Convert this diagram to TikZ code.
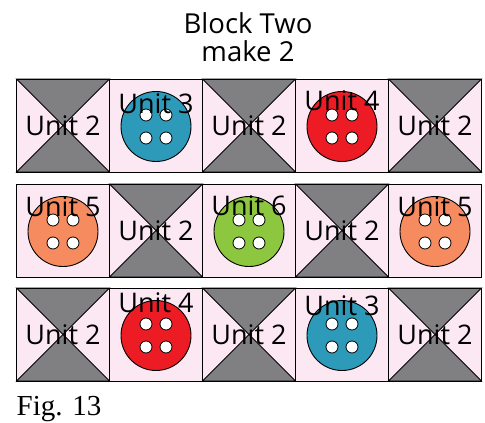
\documentclass[tikz,border=0pt]{standalone}
\usepackage{fontspec}
\setsansfont{Open Sans}
\newfontfamily\figfont{Liberation Serif}
\usepackage{tikz}

\definecolor{quiltgray}{RGB}{128,128,130}
\definecolor{quiltpink}{RGB}{252,232,242}
\definecolor{btnblue}{RGB}{46,154,186}
\definecolor{btnred}{RGB}{237,28,36}
\definecolor{btnorange}{RGB}{246,139,95}
\definecolor{btngreen}{RGB}{141,198,63}

\tikzset{
  patch/.style={fill=quiltpink,draw=black,line width=0.9pt},
  dark/.style={fill=quiltgray,draw=black,line width=0.9pt},
  button/.style={draw=black,line width=0.9pt},
  hole/.style={fill=white,draw=black,line width=0.8pt},
  unitlabel/.style={font=\sffamily\fontsize{27}{27}\selectfont,inner sep=0pt},
  titletext/.style={font=\sffamily\fontsize{27.5}{27.5}\selectfont,inner sep=0pt,anchor=base}
}

% hourglass square: name, x, y (top left corner)
\newcommand{\hgcell}[3]{%
  \draw[patch] (#2,#3) rectangle ++(93,93);
  \draw[dark] (#2,#3) -- ++(93,0) -- ++(-46.5,46.5) -- cycle;
  \draw[dark] (#2,#3+93) -- ++(93,0) -- ++(-46.5,-46.5) -- cycle;
  \draw[line width=0.9pt] (#2,#3) rectangle ++(93,93);
  \node[unitlabel] (#1) at (#2+46.5,#3+46.5) {Unit 2};
}
% button square: name, x, y, colour, label, baseline drop
\newcommand{\btncell}[6]{%
  \draw[patch] (#2,#3) rectangle ++(93,93);
  \coordinate (#1-c) at (#2+46.5,#3+47.5);
  \draw[button,fill=#4] (#1-c) circle (35pt);
  \foreach \dx/\dy in {-10/-11.5,10/-11.5,-10/11.5,10/11.5}
    \draw[hole] ([shift={(\dx,\dy)}]#1-c) circle (6pt);
  \node[unitlabel,anchor=base] (#1) at (#2+46.5,#3+#6) {#5};
}

\begin{document}
\begin{tikzpicture}[x=1pt,y=-1pt]
\useasboundingbox (0,0) rectangle (485,423);

\node[titletext] (title) at (248,33.3) {Block Two};
\node[titletext] (make) at (248,61.7) {make 2};

% row one
\hgcell{a1}{16.5}{79}
\btncell{a2}{109.5}{79}{btnblue}{Unit 3}{34}
\hgcell{a3}{202.5}{79}
\btncell{a4}{295.5}{79}{btnred}{Unit 4}{31}
\hgcell{a5}{388.5}{79}

% row two
\btncell{b1}{16.5}{184}{btnorange}{Unit 5}{32}
\hgcell{b2}{109.5}{184}
\btncell{b3}{202.5}{184}{btngreen}{Unit 6}{31}
\hgcell{b4}{295.5}{184}
\btncell{b5}{388.5}{184}{btnorange}{Unit 5}{32}

% row three
\hgcell{c1}{16.5}{288}
\btncell{c2}{109.5}{288}{btnred}{Unit 4}{24.5}
\hgcell{c3}{202.5}{288}
\btncell{c4}{295.5}{288}{btnblue}{Unit 3}{27}
\hgcell{c5}{388.5}{288}

\node[font=\figfont\fontsize{29}{29}\selectfont,inner sep=0pt,anchor=base west] (fig) at (16.5,415) {Fig. 13};
\end{tikzpicture}
\end{document}
